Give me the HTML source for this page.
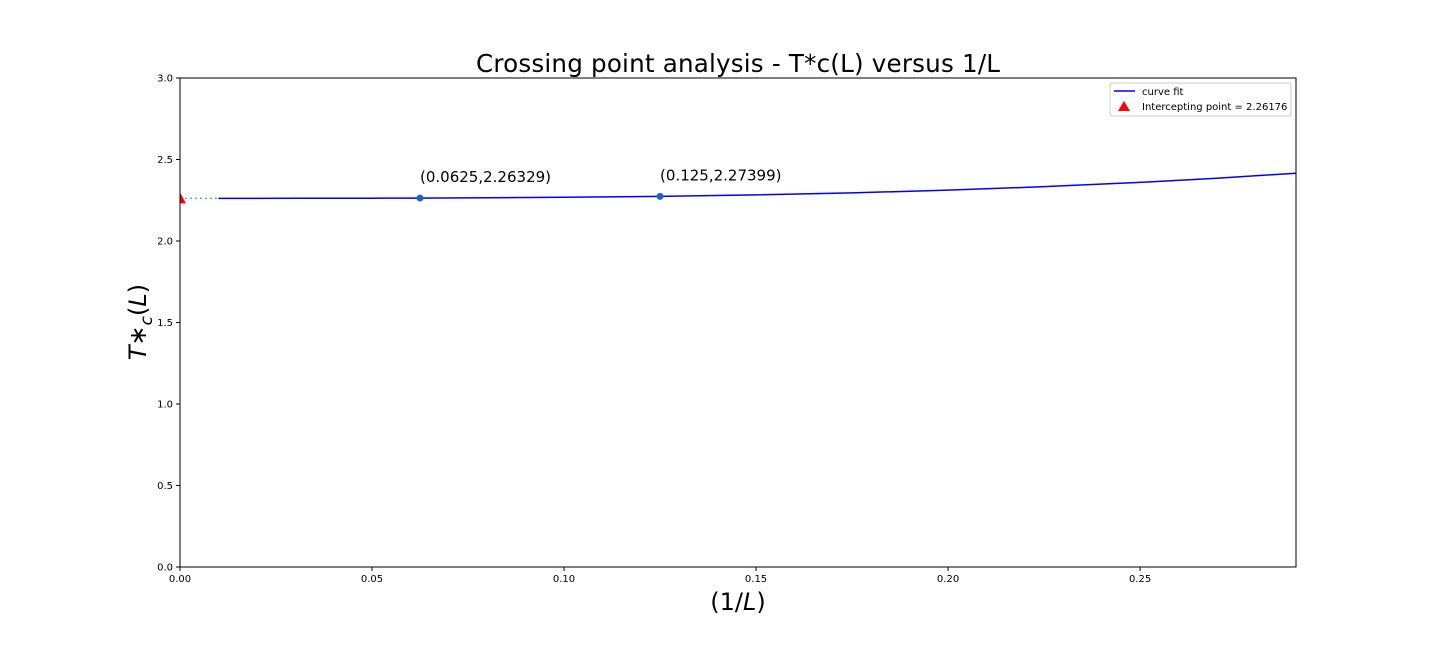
<!DOCTYPE html>
<html><head><meta charset="utf-8"><style>
html,body{margin:0;padding:0;background:#fff;width:1440px;height:648px;overflow:hidden}
svg{font-family:"DejaVu Sans","Liberation Sans",sans-serif}
</style></head><body>
<svg id="chart" width="1440" height="648" viewBox="0 0 1440 648" xmlns="http://www.w3.org/2000/svg">
<defs><clipPath id="plotclip"><rect x="180" y="78" width="1116" height="489"/></clipPath></defs>
<text x="738" y="72" font-size="24.6" text-anchor="middle" textLength="524">Crossing point analysis - T*c(L) versus 1/L</text>
<g id="axes"></g>
<g id="marks" clip-path="url(#plotclip)"></g>
<text x="738" y="610" font-size="24" text-anchor="middle">(1/<tspan font-style="italic">L</tspan>)</text>
<text transform="translate(146,322) rotate(-90)" font-size="24" text-anchor="middle"><tspan font-style="italic">T</tspan>∗<tspan font-size="17" dy="6" font-style="italic">c</tspan><tspan dy="-6">(</tspan><tspan font-style="italic">L</tspan>)</text>
<g>
<rect x="1110" y="83" width="181" height="33" rx="2" fill="#fff" stroke="#ccc"/>
<line x1="1114" y1="91" x2="1135" y2="91" stroke="#0000ff" stroke-width="1.5"/>
<text x="1142" y="95" font-size="10">curve fit</text>
<polygon points="1124,101 1130,111 1118,111" fill="red"/>
<text x="1142" y="110" font-size="10">Intercepting point = 2.26176</text>
</g>
<line x1="180" y1="78" x2="180" y2="567" stroke="#000"/>
</svg>
<script>
const xTicks=[0,0.05,0.10,0.15,0.20,0.25];
const xTickLabels=["0.00","0.05","0.10","0.15","0.20","0.25"];
const yTicks=[0,0.5,1.0,1.5,2.0,2.5,3.0];
const yTickLabels=["0.0","0.5","1.0","1.5","2.0","2.5","3.0"];
const fitX=[0.01,0.03,0.05,0.0625,0.08,0.10,0.125,0.15,0.175,0.20,0.225,0.25,0.27,0.291];
const fitY=[2.26177,2.26193,2.26254,2.26329,2.26497,2.26803,2.27399,2.28292,2.29535,2.31192,2.33321,2.35976,2.38523,2.41630];
const pointX=[0.0625,0.125];
const pointY=[2.26329,2.27399];
const pointLabels=["(0.0625,2.26329)","(0.125,2.27399)"];
const interceptX=[0];
const interceptY=[2.26176];
const L=180,R=1296,T=78,B=567,XMAX=0.2906,YMAX=3.0;
const sx=v=>L+(v/XMAX)*(R-L);
const sy=v=>B-(v/YMAX)*(B-T);
const NS="http://www.w3.org/2000/svg";
function mk(tag,attrs,parent){const e=document.createElementNS(NS,tag);for(const k in attrs)e.setAttribute(k,attrs[k]);parent.appendChild(e);return e;}
const axes=document.getElementById('axes'),marks=document.getElementById('marks');
const frame=mk('rect',{x:L,y:T,width:R-L,height:B-T,fill:'none',stroke:'#000','stroke-width':1},axes);


xTicks.forEach((v,i)=>{const x=sx(v);
 mk('line',{x1:x,y1:B,x2:x,y2:B+4,stroke:'#000'},axes);
 const t=mk('text',{x:x,y:B+15,'font-size':10,'text-anchor':'middle'},axes);t.textContent=xTickLabels[i];
 
 });
yTicks.forEach((v,i)=>{const y=sy(v);
 mk('line',{x1:L-4,y1:y,x2:L,y2:y,stroke:'#000'},axes);
 const t=mk('text',{x:L-7,y:y+3.5,'font-size':10,'text-anchor':'end'},axes);t.textContent=yTickLabels[i];
 
 });
const dot=mk('line',{x1:sx(interceptX[0]),y1:sy(interceptY[0]),x2:sx(fitX[0]),y2:sy(fitY[0]),stroke:'#5aa9e0','stroke-width':1.5,'stroke-dasharray':'2,3'},marks);


const p=mk('path',{d:fitX.map((v,i)=>(i?'L':'M')+sx(v)+','+sy(fitY[i])).join(''),fill:'none',stroke:'#0000ff','stroke-width':1.5},marks);


pointX.forEach((v,i)=>{const c=mk('circle',{cx:sx(v),cy:sy(pointY[i]),r:3.5,fill:'#1f62c4'},marks);
 
 
 const t=mk('text',{x:sx(v),y:sy(pointY[i])-16,'font-size':15},marks);t.textContent=pointLabels[i];
 
 });
interceptX.forEach((v,i)=>{const x=sx(v),y=sy(interceptY[i]);
 const tr=mk('polygon',{points:`${x},${y-6} ${x+6},${y+5} ${x-6},${y+5}`,fill:'red'},marks);
 
 });
</script>
</body></html>
